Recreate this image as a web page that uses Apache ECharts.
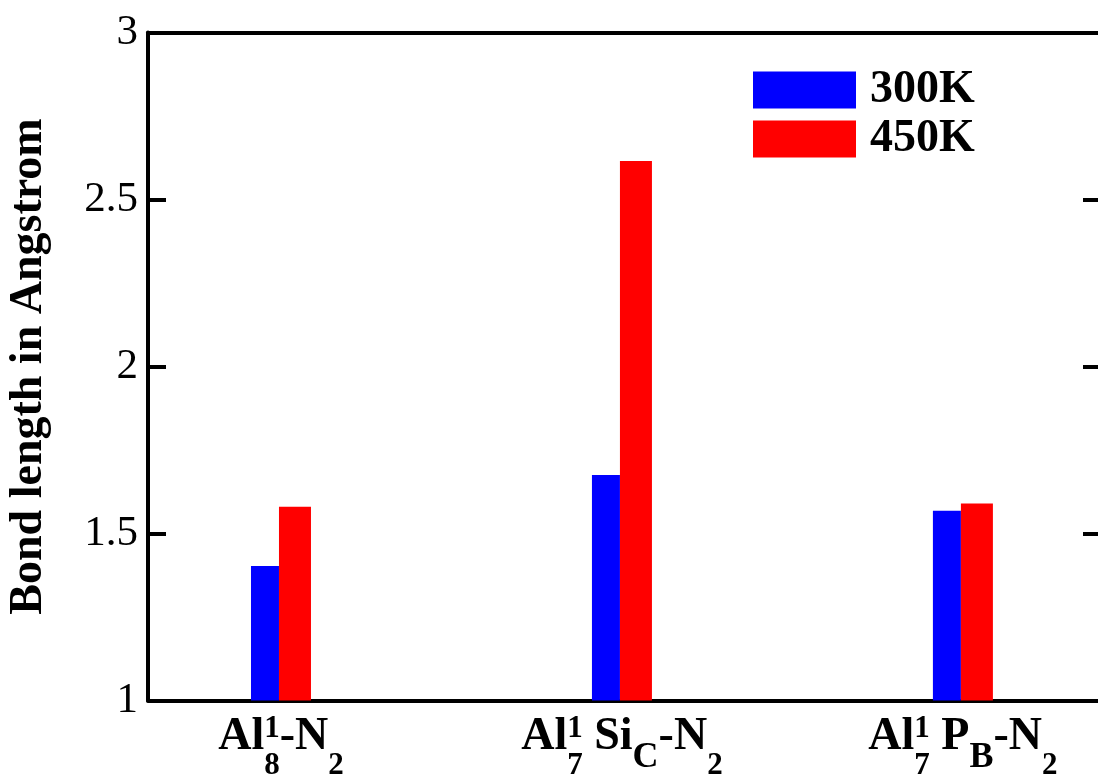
<!DOCTYPE html>
<html>
<head>
<meta charset="utf-8">
<title>Bond length</title>
<script src="https://cdn.jsdelivr.net/npm/echarts@6/dist/echarts.min.js"></script>
<style>
  html, body { margin: 0; padding: 0; background: #ffffff; }
  #chart { width: 1098px; height: 776px; }
</style>
</head>
<body>
<div id="chart"></div>
<script>
// Category labels as rich-text strings (sub/superscripts)
const categories = [
  '{m|Al}{sup|1}{sub|8}{m|-N}{sub|2}',
  '{m|Al}{sup|1}{sub|7}{m| Si}{subl|C}{m|-N}{sub|2}',
  '{m|Al}{sup|1}{sub|7}{m| P}{subl|B}{m|-N}{sub|2}'
];
const categoryPositions = [1, 2, 3];
const seriesNames = ['300K', '450K'];
const values300K = [1.403, 1.675, 1.568];
const values450K = [1.580, 2.615, 1.590];
const yTicks = [1, 1.5, 2, 2.5, 3];

const FONT = '"Liberation Serif", "Times New Roman", serif';
const AX = { color: '#000', width: 4 };

const chart = echarts.init(document.getElementById('chart'), null, { renderer: 'canvas' });

function pairs(vals) {
  return categoryPositions.map((x, i) => [x, vals[i]]);
}

function catLabel(v) {
  const r = Math.round(v);
  if (Math.abs(v - r) > 1e-6) return '';
  const i = categoryPositions.indexOf(r);
  return i >= 0 ? categories[i] : '';
}

const bold = { fontFamily: FONT, fontWeight: 'bold', color: '#000', align: 'left' };

chart.setOption({
  animation: false,
  backgroundColor: '#ffffff',
  grid: {
    left: 148, right: -3, top: 32.5, bottom: 75.5,
    containLabel: false,
    outerBoundsMode: 'none'
  },
  legend: {
    orient: 'vertical',
    left: 748,
    top: 62,
    itemWidth: 103,
    itemHeight: 37,
    itemGap: 3,
    icon: 'rect',
    data: seriesNames,
    textStyle: {
      fontFamily: FONT,
      fontWeight: 'bold',
      fontSize: 46,
      lineHeight: 37,
      color: '#000',
      padding: [0, 0, 0, 9]
    }
  },
  xAxis: [
    {
      type: 'value',
      position: 'bottom',
      min: 0.61,
      max: 3.405,
      minInterval: 1,
      axisLine: { show: true, onZero: false, lineStyle: AX },
      axisTick: { show: false },
      splitLine: { show: false },
      axisLabel: {
        show: true,
        margin: 13,
        showMinLabel: true,
        showMaxLabel: true,
        formatter: catLabel,
        color: '#000',
        rich: {
          m: Object.assign({ fontSize: 46, height: 47, lineHeight: 67, verticalAlign: 'top' }, bold),
          sup: Object.assign({ fontSize: 31, height: 30, lineHeight: 30, verticalAlign: 'top', width: 0 }, bold),
          sub: Object.assign({ fontSize: 31, height: 30, lineHeight: 30, verticalAlign: 'bottom' }, bold),
          subl: Object.assign({ fontSize: 36, height: 45, lineHeight: 45, verticalAlign: 'bottom' }, bold)
        }
      }
    },
    {
      type: 'value',
      position: 'top',
      min: 0.61,
      max: 3.405,
      axisLine: { show: true, onZero: false, lineStyle: AX },
      axisTick: { show: false },
      axisLabel: { show: false },
      splitLine: { show: false }
    }
  ],
  yAxis: [
    {
      type: 'value',
      position: 'left',
      min: yTicks[0],
      max: yTicks[yTicks.length - 1],
      interval: 0.5,
      name: 'Bond length in Angstrom',
      nameLocation: 'middle',
      nameGap: 96,
      nameTextStyle: { fontFamily: FONT, fontWeight: 'bold', fontSize: 46, color: '#000' },
      axisLine: { show: true, onZero: false, lineStyle: AX },
      axisTick: { show: true, inside: true, length: 18, lineStyle: AX },
      splitLine: { show: false },
      axisLabel: {
        margin: 10,
        fontFamily: FONT,
        fontSize: 43,
        color: '#000',
        formatter: v => String(v)
      }
    },
    {
      type: 'value',
      position: 'right',
      min: yTicks[0],
      max: yTicks[yTicks.length - 1],
      interval: 0.5,
      axisLine: { show: true, onZero: false, lineStyle: AX },
      axisTick: { show: true, inside: true, length: 18, lineStyle: AX },
      axisLabel: { show: false },
      splitLine: { show: false }
    }
  ],
  series: [
    {
      name: seriesNames[0],
      type: 'bar',
      xAxisIndex: 0,
      yAxisIndex: 0,
      barWidth: 28,
      barGap: '0%',
      itemStyle: { color: '#0000ff' },
      data: pairs(values300K)
    },
    {
      name: seriesNames[1],
      type: 'bar',
      xAxisIndex: 0,
      yAxisIndex: 0,
      barWidth: 32,
      barGap: '0%',
      itemStyle: { color: '#ff0000' },
      data: pairs(values450K)
    }
  ]
});
</script>
</body>
</html>
